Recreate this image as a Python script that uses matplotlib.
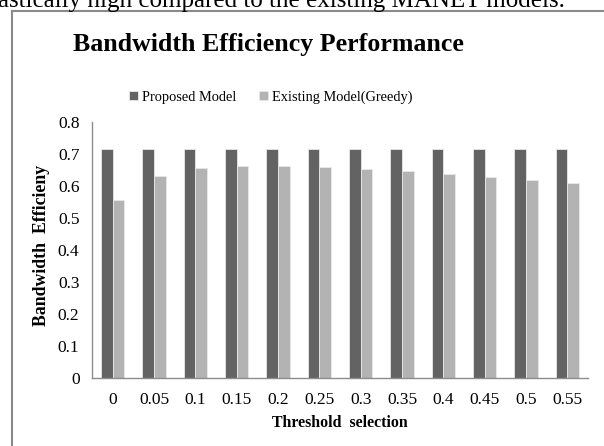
import matplotlib
matplotlib.use("Agg")
import matplotlib.pyplot as plt
from matplotlib.lines import Line2D
import numpy as np

categories = ["0", "0.05", "0.1", "0.15", "0.2", "0.25", "0.3", "0.35", "0.4", "0.45", "0.5", "0.55"]
proposed = [0.715] * 12
existing = [0.555, 0.632, 0.656, 0.663, 0.663, 0.660, 0.653, 0.646, 0.637, 0.629, 0.619, 0.610]
yticks = [0, 0.1, 0.2, 0.3, 0.4, 0.5, 0.6, 0.7, 0.8]
ytick_labels = ["0", "0.1", "0.2", "0.3", "0.4", "0.5", "0.6", "0.7", "0.8"]

plt.rcParams['font.family'] = ['Liberation Serif', 'DejaVu Serif']

W, H = 604, 446
fig = plt.figure(figsize=(W / 100, H / 100), dpi=100)

def fx(px):
    return px / W

def fy(py):
    return 1 - py / H

# frame around the chart
fig.add_artist(Line2D([fx(12), fx(12)], [fy(11), fy(446)], color="#8a8a8a", lw=1.5))
fig.add_artist(Line2D([fx(12), 1.0], [fy(11), fy(11)], color="#8a8a8a", lw=1.5))

# clipped text from the page above the chart
fig.text(fx(-2), fy(7), "astically high compared to the existing MANET models.",
         fontsize=18, va="baseline", ha="left", color="black")

ax = fig.add_axes([fx(92), fy(378), fx(588) - fx(92), fy(122) - fy(378)])
x = np.arange(len(categories))
bw = 0.285
ax.bar(x - bw / 2, proposed, bw, color="#636363", edgecolor="#e8e8e8", linewidth=0.6, label="Proposed Model")
ax.bar(x + bw / 2, existing, bw, color="#b3b3b3", edgecolor="#e8e8e8", linewidth=0.6, label="Existing Model(Greedy)")

ax.set_xlim(-0.5, len(categories) - 0.5)
ax.set_ylim(0, 0.8)
ax.set_yticks(yticks)
ax.set_yticklabels(ytick_labels)
ax.set_xticks(x)
ax.set_xticklabels(categories)
ax.tick_params(axis="both", length=0, labelsize=12.5)
ax.tick_params(axis="y", pad=9)
ax.tick_params(axis="x", pad=10)
for s in ["top", "right"]:
    ax.spines[s].set_visible(False)
for s in ["left", "bottom"]:
    ax.spines[s].set_color("#8c8c8c")
    ax.spines[s].set_linewidth(1.0)

fig.text(fx(42), fy(245), "Bandwidth  Efficieny", rotation=90, fontsize=12.8, fontweight="bold",
         ha="center", va="center")
fig.text(fx(340), fy(423), "Threshold  selection", fontsize=11.4, fontweight="bold",
         ha="center", va="center")

fig.text(fx(268), fy(44), "Bandwidth Efficiency Performance", fontsize=18.6, fontweight="bold",
         ha="center", va="center")

leg = fig.legend(loc="center", bbox_to_anchor=(fx(271), fy(97)), ncol=2, frameon=False,
                 fontsize=10.4, handlelength=0.6, handleheight=0.6, handletextpad=0.3,
                 columnspacing=1.6)

fig.savefig("out.png", dpi=100)
